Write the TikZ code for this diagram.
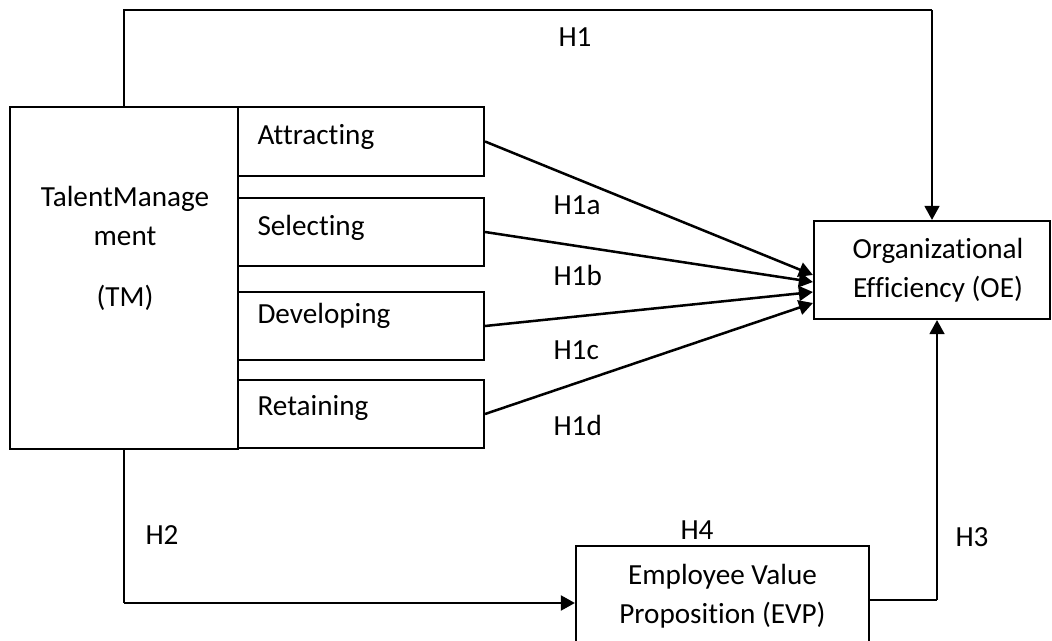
\documentclass[tikz,border=0pt]{standalone}
\usepackage{fontspec}
\setmainfont{Carlito}[Ligatures=NoCommon]
\usepackage{tikz}
\usetikzlibrary{calc, arrows.meta}

\def\pxu{0.377pt}
\tikzset{
	box/.style={draw, rectangle, line width=0.8pt, inner sep=0pt},
	thinline/.style={line width=0.55pt},
	hyparrow/.style={line width=0.95pt, -{Triangle[length=5.3pt,width=5.6pt]}},
	lbl/.style={inner sep=0pt, align=center, font=\fontsize{11}{14.7}\selectfont},
}

\begin{document}
\begin{tikzpicture}[x=\pxu, y=-\pxu]
	\useasboundingbox (0,0) rectangle (1052,641);
	
	%boxes
	\node[box, minimum width=228*\pxu, minimum height=342*\pxu] (tm) at (124,278) {};
	\node[box, minimum width=246*\pxu, minimum height=69*\pxu] (attr) at (361,141.5) {};
	\node[box, minimum width=246*\pxu, minimum height=68*\pxu] (sel) at (361,232) {};
	\node[box, minimum width=246*\pxu, minimum height=68*\pxu] (dev) at (361,326) {};
	\node[box, minimum width=246*\pxu, minimum height=68*\pxu] (ret) at (361,414) {};
	\node[box, minimum width=236*\pxu, minimum height=98*\pxu] (oe) at (932,270) {};
	\node[box, minimum width=293*\pxu, minimum height=120*\pxu] (evp) at (722.5,606) {};
	
	%inner labels
	\node[lbl] (tmtext) at (125,248) {TalentManage\\ment\\[8.3pt](TM)};
	\node[lbl, anchor=west] (attrtext) at (257,137) {Attracting};
	\node[lbl, anchor=west] (seltext) at (257,228) {Selecting};
	\node[lbl, anchor=west] (devtext) at (257,316) {Developing};
	\node[lbl, anchor=west] (rettext) at (257,408) {Retaining};
	\node[lbl] (oetext) at (938,270.5) {Organizational\\Efficiency (OE)};
	\node[lbl] (evptext) at (722.5,596.5) {Employee Value\\Proposition (EVP)};
	
	%turning points
	\coordinate (h1turn) at (932,10);
	\coordinate (h2turn) at (124,603);
	\coordinate (h3turn) at (937,600);
	
	%H1
	\draw[thinline] (tm.north) |- (h1turn);
	\draw[hyparrow, line width=0.8pt] (h1turn) -- (oe.north);
	
	%H1a - H1d
	\draw[hyparrow] (attr.east) -- ($(oe.west)+(0,5)$);
	\draw[hyparrow] (sel.east) -- ($(oe.west)+(0,12)$);
	\draw[hyparrow] (dev.east) -- ($(oe.west)+(0,22)$);
	\draw[hyparrow] (ret.east) -- ($(oe.west)+(0,33)$);
	
	%H2
	\draw[thinline] (tm.south) -- (h2turn);
	\draw[hyparrow] (h2turn) -- (evp.west |- h2turn);
	
	%H3
	\draw[thinline] (evp.east |- h3turn) -- (h3turn);
	\draw[hyparrow, line width=0.8pt] (h3turn) -- (oe.south -| h3turn);
	
	%hypothesis labels
	\node[lbl] (h1) at (575,37) {H1};
	\node[lbl, anchor=west] (h1a) at (553,205) {H1a};
	\node[lbl, anchor=west] (h1b) at (553,275) {H1b};
	\node[lbl, anchor=west] (h1c) at (553,350) {H1c};
	\node[lbl, anchor=west] (h1d) at (553,425) {H1d};
	\node[lbl, anchor=west] (h2) at (145,535) {H2};
	\node[lbl] (h4) at (697,530) {H4};
	\node[lbl, anchor=west] (h3) at (955,537) {H3};
\end{tikzpicture}
\end{document}
